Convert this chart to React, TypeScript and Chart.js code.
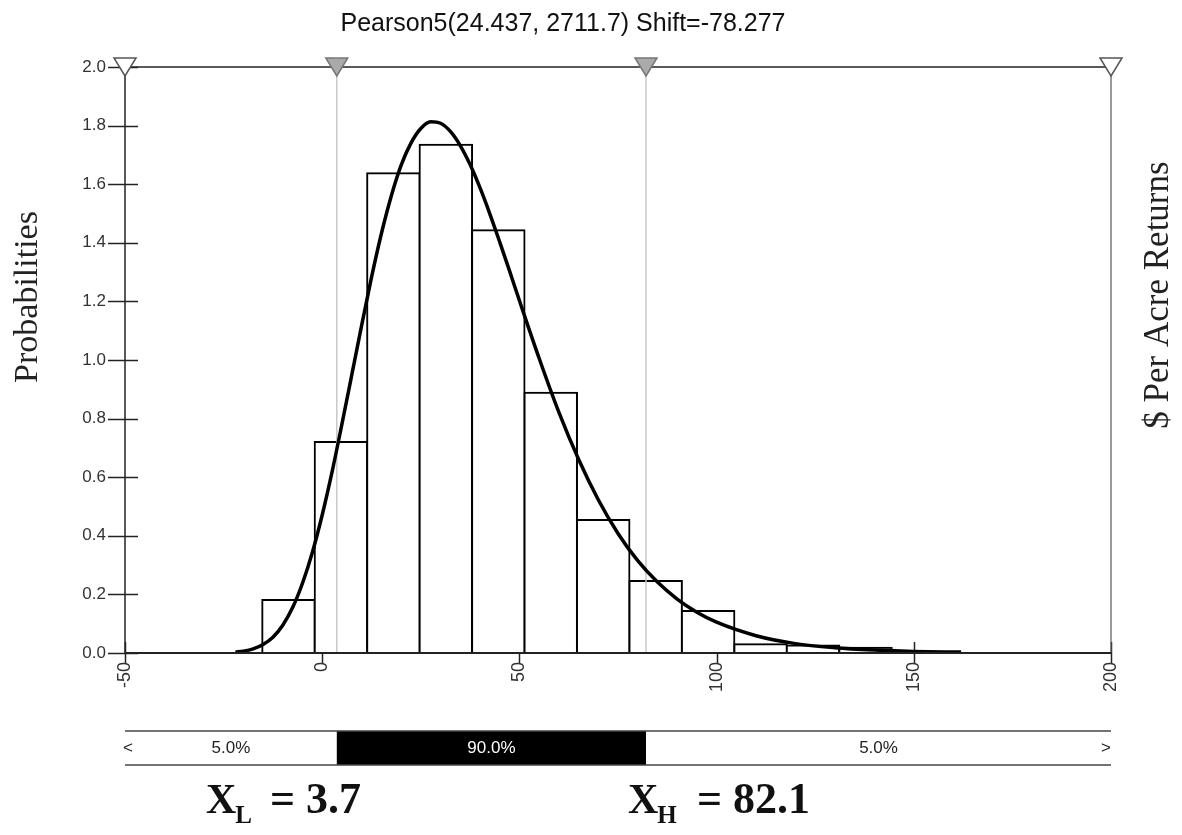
import React, { useEffect, useRef } from 'react';
import { Chart, registerables } from 'chart.js';

Chart.register(...registerables);

// ---------- data ----------
const TITLE = 'Pearson5(24.437, 2711.7) Shift=-78.277';
const Y_TITLE = 'Probabilities';
const Y2_TITLE = '$ Per Acre Returns';

const binEdges = [-15.2, -1.9, 11.4, 24.7, 38.0, 51.3, 64.6, 77.9, 91.2, 104.5, 117.8, 131.1, 144.4];
const binHeights = [0.181, 0.72, 1.637, 1.735, 1.443, 0.888, 0.454, 0.246, 0.143, 0.03, 0.026, 0.018];

const curveX = [-22, -20, -17.5, -15, -12.5, -10, -7.5, -5, -2.5, 0, 2.5, 5, 7.5, 10, 12.5, 15, 17.5, 20, 22.5, 25, 27.5, 30, 32.5, 35, 37.5, 40, 42.5, 45, 47.5, 50, 55, 60, 65, 70, 75, 80, 85, 90, 95, 100, 110, 120, 130, 140, 150, 162];
const curveY = [0.003, 0.006, 0.014, 0.029, 0.054, 0.095, 0.155, 0.238, 0.343, 0.471, 0.618, 0.781, 0.949, 1.118, 1.282, 1.431, 1.559, 1.664, 1.74, 1.79, 1.813, 1.808, 1.78, 1.732, 1.667, 1.588, 1.499, 1.403, 1.304, 1.203, 1.006, 0.822, 0.661, 0.523, 0.408, 0.315, 0.242, 0.184, 0.139, 0.105, 0.059, 0.032, 0.018, 0.01, 0.005, 0.003];

const xTicks = [-50, 0, 50, 100, 150, 200];
const yTicks = [0, 0.2, 0.4, 0.6, 0.8, 1.0, 1.2, 1.4, 1.6, 1.8, 2.0];

const xLow = 3.7;
const xHigh = 82.1;
const markerOuter = [-50, 200];
const markerInner = [xLow, xHigh];
const bandLabels = ['5.0%', '90.0%', '5.0%'];
const lowLabel = '= 3.7';
const highLabel = '= 82.1';

const SANS = '"Liberation Sans", Arial, sans-serif';
const SERIF = '"Liberation Serif", "Times New Roman", serif';

const BAR_INDEX = 1;

function line(ctx: CanvasRenderingContext2D, x1: number, y1: number, x2: number, y2: number) {
  ctx.beginPath();
  ctx.moveTo(x1, y1);
  ctx.lineTo(x2, y2);
  ctx.stroke();
}

const overlay = {
  id: 'overlay',
  beforeDatasetsDraw(chart: any) {
    const { ctx, chartArea: a, scales } = chart;
    const x = scales.x, y = scales.y;
    ctx.save();
    ctx.strokeStyle = '#222';
    ctx.lineWidth = 1.5;
    y.ticks.forEach((_t: any, i: number) => {
      const py = Math.round(y.getPixelForTick(i)) + 0.5;
      line(ctx, a.left - 17, py, a.left + 13, py);
    });
    x.ticks.forEach((_t: any, i: number) => {
      const px = Math.round(x.getPixelForTick(i)) + 0.5;
      line(ctx, px, a.bottom - 11, px, a.bottom + 10);
    });
    ctx.restore();
  },
  afterDatasetDraw(chart: any, args: any) {
    if (args.index !== BAR_INDEX) return;
    const { ctx, chartArea: a, scales } = chart;
    ctx.save();
    ctx.strokeStyle = '#c8c8c8';
    ctx.lineWidth = 1.5;
    markerInner.forEach((v) => {
      const px = scales.x.getPixelForValue(v);
      line(ctx, px, a.top, px, a.bottom);
    });
    ctx.restore();
  },
  afterDraw(chart: any) {
    const { ctx, chartArea: a, scales } = chart;
    const x = scales.x;
    ctx.save();
    // frame
    ctx.strokeStyle = '#222';
    ctx.lineWidth = 1.5;
    line(ctx, a.left, a.top, a.right, a.top);
    line(ctx, a.left, a.top, a.left, a.bottom);
    ctx.strokeStyle = '#555';
    ctx.lineWidth = 1.2;
    line(ctx, a.right, a.top, a.right, a.bottom);
    ctx.strokeStyle = '#222';
    ctx.lineWidth = 2;
    line(ctx, a.left, a.bottom, a.right, a.bottom);

    // triangles
    const tri = (v: number, fill: string, stroke: string) => {
      const px = x.getPixelForValue(v);
      ctx.beginPath();
      ctx.moveTo(px - 11, a.top - 9);
      ctx.lineTo(px + 11, a.top - 9);
      ctx.lineTo(px, a.top + 9);
      ctx.closePath();
      ctx.fillStyle = fill;
      ctx.fill();
      ctx.strokeStyle = stroke;
      ctx.lineWidth = 1.5;
      ctx.stroke();
    };
    markerOuter.forEach((v) => tri(v, '#fff', '#555'));
    markerInner.forEach((v) => tri(v, '#aaa', '#777'));

    // title
    ctx.fillStyle = '#111';
    ctx.font = `25px ${SANS}`;
    ctx.textAlign = 'center';
    ctx.textBaseline = 'alphabetic';
    ctx.fillText(TITLE, 563, 31);

    // axis titles
    ctx.font = `34px ${SERIF}`;
    ctx.fillStyle = '#222';
    ctx.save();
    ctx.translate(37, 297);
    ctx.rotate(-Math.PI / 2);
    ctx.textAlign = 'center';
    ctx.fillText(Y_TITLE, 0, 0);
    ctx.restore();
    ctx.font = `35px ${SERIF}`;
    ctx.save();
    ctx.translate(1168, 295);
    ctx.rotate(-Math.PI / 2);
    ctx.textAlign = 'center';
    ctx.fillText(Y2_TITLE, 0, 0);
    ctx.restore();

    // probability band
    const pL = x.getPixelForValue(xLow);
    const pH = x.getPixelForValue(xHigh);
    const bTop = 731, bBot = 765, bMid = 748;
    ctx.fillStyle = '#000';
    ctx.fillRect(pL, bTop, pH - pL, bBot - bTop);
    ctx.strokeStyle = '#444';
    ctx.lineWidth = 1.5;
    line(ctx, a.left, bTop, a.right, bTop);
    line(ctx, a.left, bBot, a.right, bBot);
    ctx.font = `17px ${SANS}`;
    ctx.textBaseline = 'middle';
    ctx.textAlign = 'center';
    ctx.fillStyle = '#222';
    ctx.fillText(bandLabels[0], (a.left + pL) / 2, bMid);
    ctx.fillText(bandLabels[2], (pH + a.right) / 2, bMid);
    ctx.fillStyle = '#fff';
    ctx.fillText(bandLabels[1], (pL + pH) / 2, bMid);
    ctx.fillStyle = '#222';
    ctx.fillText('<', a.left + 3, bMid);
    ctx.fillText('>', a.right - 5, bMid);

    // XL / XH
    const drawX = (x0: number, sub: string, rest: string, restX: number) => {
      ctx.textAlign = 'left';
      ctx.textBaseline = 'alphabetic';
      ctx.fillStyle = '#111';
      ctx.font = `bold 42px ${SERIF}`;
      ctx.fillText('X', x0, 813);
      const wX = ctx.measureText('X').width;
      ctx.font = `bold 25px ${SERIF}`;
      ctx.fillText(sub, x0 + wX - 1, 823);
      ctx.font = `bold 44px ${SERIF}`;
      ctx.fillText(rest, restX, 813);
    };
    drawX(206, 'L', lowLabel, 270);
    drawX(628, 'H', highLabel, 697);
    ctx.restore();
  },
};

export default function App() {
  const ref = useRef<HTMLCanvasElement | null>(null);
  useEffect(() => {
    if (!ref.current) return;
    const centers = binHeights.map((_h, i) => (binEdges[i] + binEdges[i + 1]) / 2);
    const chart = new Chart(ref.current, {
      type: 'bar',
      data: {
        datasets: [
          {
            type: 'line',
            data: curveX.map((v, i) => ({ x: v, y: curveY[i] })),
            borderColor: '#000',
            borderWidth: 3.5,
            pointRadius: 0,
            cubicInterpolationMode: 'monotone',
            fill: false,
            order: 0,
          } as any,
          {
            type: 'bar',
            data: centers.map((v, i) => ({ x: v, y: binHeights[i] })),
            backgroundColor: '#fff',
            borderColor: '#000',
            borderWidth: 2,
            inflateAmount: 1,
            barPercentage: 1,
            categoryPercentage: 1,
            order: 1,
          } as any,
        ],
      },
      options: {
        animation: false,
        responsive: false,
        events: [],
        layout: { padding: { left: 0, top: 67, right: 71, bottom: 0 } },
        plugins: {
          legend: { display: false },
          tooltip: { enabled: false },
          title: { display: false },
        },
        scales: {
          x: {
            type: 'linear',
            min: -50,
            max: 200,
            offset: false,
            afterFit: (s: any) => { s.height = 182; },
            afterBuildTicks: (s: any) => { s.ticks = xTicks.map((v) => ({ value: v })); },
            grid: { display: false, drawTicks: false, offset: false },
            border: { display: false },
            ticks: {
              autoSkip: false,
              minRotation: 90,
              maxRotation: 90,
              padding: 9,
              color: '#333',
              font: { family: SANS, size: 18 },
              callback: (v: any) => String(v),
            },
          },
          y: {
            type: 'linear',
            min: 0,
            max: 2,
            afterFit: (s: any) => { s.width = 125; },
            afterBuildTicks: (s: any) => { s.ticks = yTicks.map((v) => ({ value: v })); },
            grid: { display: false, drawTicks: false },
            border: { display: false },
            ticks: {
              padding: 19,
              color: '#333',
              font: { family: SANS, size: 17 },
              callback: (v: any) => Number(v).toFixed(1),
            },
          },
        },
      } as any,
      plugins: [overlay],
    });
    return () => chart.destroy();
  }, []);
  return (
    <div style={{ position: 'absolute', left: 0, top: 0, width: 1182, height: 835, background: '#fff' }}>
      <canvas ref={ref} width={1182} height={835} style={{ display: 'block' }} />
    </div>
  );
}
